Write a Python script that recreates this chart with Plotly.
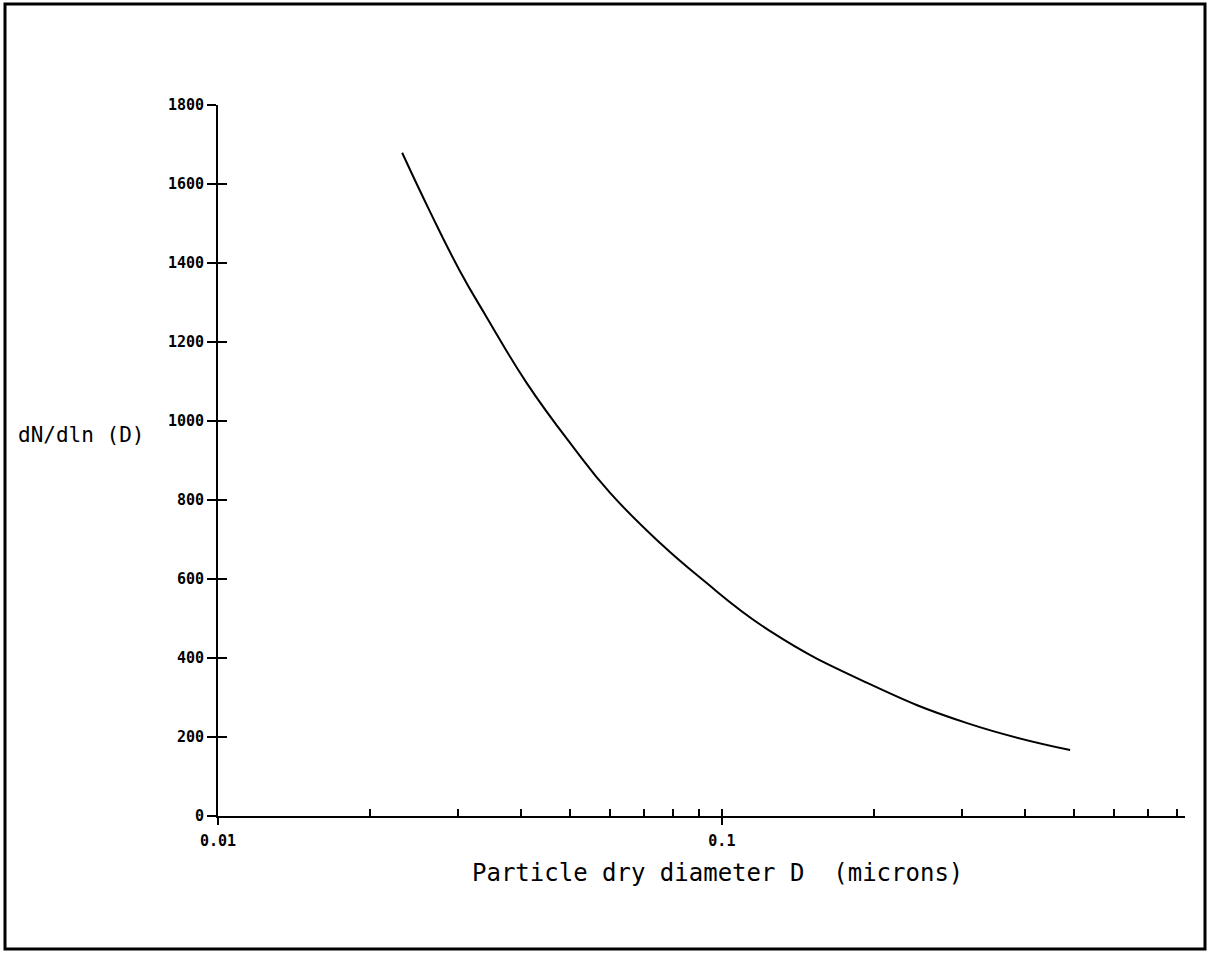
import numpy as np
import plotly.graph_objects as go

# Data
diameter_um = [0.0232, 0.0263, 0.0302, 0.0342, 0.0410, 0.0507, 0.0600,
               0.0754, 0.0906, 0.1247, 0.1943, 0.3067, 0.491]
dN_dlnD = [1679, 1532, 1380, 1261, 1096, 934, 818,
           691, 603, 468, 337, 235, 167]

y_ticks = [0, 200, 400, 600, 800, 1000, 1200, 1400, 1600, 1800]
x_major_ticks = [0.01, 0.1]
x_major_labels = ["0.01", "0.1"]
x_minor_ticks = [0.02, 0.03, 0.04, 0.05, 0.06, 0.07, 0.08, 0.09,
                 0.2, 0.3, 0.4, 0.5, 0.6, 0.7, 0.8]

W, H = 1209, 953
L, R, T, B = 218, 24, 105, 137
pw, ph = W - L - R, H - T - B

def px_x(p):
    return (p - L) / pw

def px_y(p):
    return (H - B - p) / ph

mono = "DejaVu Sans Mono"
xr = [-2, np.log10(0.83)]

fig = go.Figure()
fig.add_trace(go.Scatter(x=diameter_um, y=dN_dlnD, mode="lines",
                         line=dict(color="black", width=2, shape="spline", smoothing=1.3),
                         showlegend=False, hoverinfo="skip"))
# invisible trace for overlay axes
fig.add_trace(go.Scatter(x=[0.01], y=[0], xaxis="x2", yaxis="y2", mode="markers",
                         marker=dict(opacity=0), showlegend=False, hoverinfo="skip"))

fig.update_layout(
    width=W, height=H,
    margin=dict(l=L, r=R, t=T, b=B),
    paper_bgcolor="white", plot_bgcolor="white",
    xaxis=dict(type="log", range=xr, showgrid=False, zeroline=False,
               showline=True, linecolor="black", linewidth=2,
               tickvals=x_major_ticks, ticktext=x_major_labels,
               ticks="outside", ticklen=7, tickwidth=2, tickcolor="black",
               ticklabelstandoff=3,
               tickfont=dict(family=mono, size=15, color="black", weight="bold")),
    xaxis2=dict(type="log", range=xr, overlaying="x", anchor="y2", side="bottom",
                showgrid=False, zeroline=False, showline=False,
                tickvals=x_minor_ticks + x_major_ticks, ticks="inside", ticklen=7,
                tickwidth=2, tickcolor="black", showticklabels=False),
    yaxis=dict(range=[0, 1800], showgrid=False, zeroline=False,
               showline=True, linecolor="black", linewidth=2,
               tickvals=y_ticks, ticks="outside", ticklen=9, tickwidth=2,
               tickcolor="black",
               tickfont=dict(family=mono, size=15, color="black", weight="bold")),
    yaxis2=dict(range=[0, 1800], overlaying="y", anchor="x2", side="left",
                showgrid=False, zeroline=False, showline=False,
                tickvals=y_ticks, ticks="inside", ticklen=9, tickwidth=2,
                tickcolor="black", showticklabels=False),
    annotations=[
        dict(text="dN/dln (D)", xref="paper", yref="paper",
             x=px_x(81), y=px_y(435), xanchor="center", yanchor="middle",
             showarrow=False,
             font=dict(family=mono, size=21, color="black")),
        dict(text="Particle dry diameter D\u00a0\u00a0(microns)", xref="paper", yref="paper",
             x=px_x(717), y=px_y(873), xanchor="center", yanchor="middle",
             showarrow=False,
             font=dict(family=mono, size=24, color="black")),
    ],
    shapes=[
        dict(type="rect", xref="paper", yref="paper",
             x0=px_x(5), x1=px_x(1205), y0=px_y(949), y1=px_y(4),
             line=dict(color="black", width=3)),
    ],
)

fig.write_html("out.html", config={"displayModeBar": False},
               post_script="document.body.style.margin='0';document.body.style.overflow='hidden';")
